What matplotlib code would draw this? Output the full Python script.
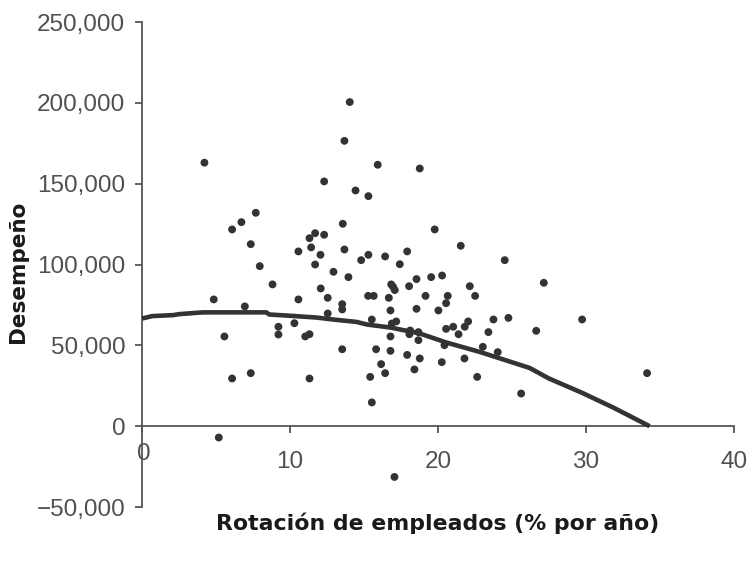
import matplotlib
matplotlib.use('Agg')
import matplotlib.pyplot as plt
import matplotlib.transforms as mtransforms
from matplotlib.ticker import FuncFormatter

# rotacion de empleados (% por año) y desempeño
rotacion = [
    14.04, 13.68, 4.22, 12.31, 14.43, 7.69, 6.72, 6.09, 13.57, 7.35,
    11.70, 11.32, 12.31, 11.43, 10.57, 12.06, 13.68,
    15.93, 18.77, 15.30, 19.78, 21.54, 15.30, 16.43, 17.92, 14.81, 24.51,
    7.96, 11.70, 12.94, 13.95, 8.82, 12.08, 4.85, 10.57, 12.55, 6.95,
    13.53, 13.53, 12.55, 10.30, 9.22, 9.22, 5.57, 11.03, 11.32, 13.53,
    6.09, 7.35, 11.32, 5.19,
    17.42, 16.84, 16.97, 17.08, 18.05, 18.55, 19.54, 20.28, 27.15, 22.15,
    15.28, 15.66, 16.68, 19.16, 20.66, 20.55, 22.51, 16.79, 18.55, 20.03,
    15.53, 16.88, 17.18, 23.75, 24.76, 22.04, 21.81, 21.03, 20.55, 21.39,
    23.41, 26.64, 29.74, 18.12, 18.68, 16.79, 18.68, 18.07, 20.44, 23.03,
    24.04, 15.82, 16.79, 17.92, 18.77, 20.26, 21.79, 16.16, 18.41, 15.42,
    16.43, 22.65, 25.62, 15.53,
    34.13, 17.06,
]
desempeno = [
    200500, 176500, 163000, 151400, 145800, 132000, 126200, 121700, 125200, 112600,
    119400, 116300, 118400, 110600, 108100, 106000, 109300,
    161700, 159400, 142300, 121700, 111600, 106000, 105000, 108100, 102700, 102700,
    99000, 100000, 95500, 92200, 87700, 85200, 78400, 78400, 79400, 74100,
    75500, 72200, 69700, 63700, 61500, 56700, 55500, 55500, 56900, 47600,
    29500, 32800, 29500, -7000,
    100200, 87700, 86200, 84200, 86600, 91000, 92200, 93200, 88700, 86600,
    80600, 80600, 79400, 80600, 80600, 76100, 80600, 71600, 72600, 71600,
    66000, 63500, 64800, 66000, 67000, 64800, 61500, 61500, 60200, 56900,
    58200, 59000, 66000, 59200, 58200, 55500, 53200, 56900, 50100, 49100,
    45800, 47600, 46600, 44100, 41900, 39600, 41900, 38400, 35100, 30500,
    32800, 30500, 20200, 14700,
    32800, -31400,
]

# curva ajustada
curva_x = [0, 0.7, 2.1, 2.5, 4.1, 8.4, 8.6, 10.0, 11.8, 12.9, 14.5, 15.2,
           16.8, 18.75, 20.55, 22.8, 24.2, 26.2, 27.5, 29.7, 31.85, 34.3]
curva_y = [66600, 68100, 68700, 69300, 70400, 70400, 69100, 68300, 67200,
           66000, 64500, 62900, 61000, 57400, 51800, 46000, 41900, 36000,
           29500, 20800, 11500, 0]

x_ticks = [0, 10, 20, 30, 40]
y_ticks = [-50000, 0, 50000, 100000, 150000, 200000, 250000]

gris = '#555555'
oscuro = '#333333'

fig = plt.figure(figsize=(7.5, 5.66), dpi=100)
ax = fig.add_axes([0.1893, 0.1042, 0.7893, 0.8569])

ax.plot(curva_x, curva_y, color=oscuro, lw=3.3, solid_capstyle='butt', zorder=3)
ax.scatter(rotacion, desempeno, s=32, color=oscuro, edgecolors='none', zorder=4)

ax.set_xlim(0, 40)
ax.set_ylim(-50000, 250000)
ax.set_xticks(x_ticks)
ax.set_yticks(y_ticks)
ax.yaxis.set_major_formatter(FuncFormatter(lambda v, p: f'{v:,.0f}'.replace('-', '\u2212')))

for s in ['top', 'right']:
    ax.spines[s].set_visible(False)
ax.spines['bottom'].set_position(('data', 0))
for s in ['left', 'bottom']:
    ax.spines[s].set_color(gris)
    ax.spines[s].set_linewidth(1.3)

ax.tick_params(axis='both', color=gris, width=1.3, length=5, direction='out',
               labelcolor='#505050', labelsize=17.5)
ax.tick_params(axis='x', pad=13)
ax.tick_params(axis='y', pad=7)
for lab in ax.get_xticklabels() + ax.get_yticklabels():
    lab.set_fontfamily('Liberation Sans')

# el "0" del eje x queda un poco mas arriba que los demas
lab0 = ax.get_xticklabels()[0]
lab0.set_transform(lab0.get_transform() +
                   mtransforms.ScaledTranslation(0.02, 6 / 72, fig.dpi_scale_trans))

fig.text(0.583, 0.076, 'Rotación de empleados (% por año)', ha='center', va='center',
         fontsize=15.8, fontweight='bold', family='DejaVu Sans', color='#1a1a1a')
fig.text(0.024, 0.52, 'Desempeño', ha='center', va='center', rotation=90,
         fontsize=15.5, fontweight='bold', family='DejaVu Sans', color='#1a1a1a')

fig.savefig('out.png', dpi=100)
